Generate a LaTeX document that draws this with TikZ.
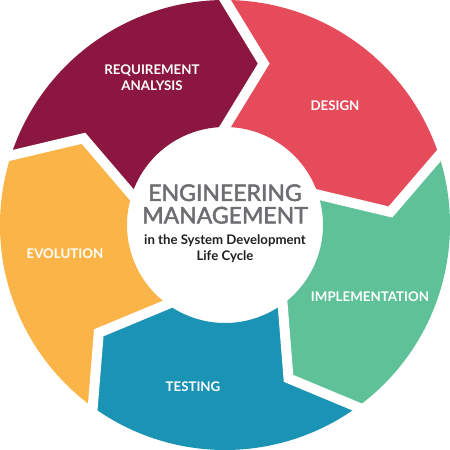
\documentclass[tikz,border=0pt]{standalone}
\usepackage{fontspec}
\setmainfont{Lato}
\newfontfamily\titlefont{Lato}[FakeBold=2.2]
\usetikzlibrary{calc}
\definecolor{cMaroon}{HTML}{8B1740}
\definecolor{cRed}{HTML}{E54B5A}
\definecolor{cGreen}{HTML}{5FC198}
\definecolor{cTeal}{HTML}{1B93B4}
\definecolor{cOrange}{HTML}{FBB447}
\definecolor{cGray}{HTML}{6D6E71}
\definecolor{cDark}{HTML}{231F20}
\tikzset{
  phaselabel/.style={text=white, align=center, font=\bfseries\fontsize{13.3}{16}\selectfont},
  gapline/.style={white, line width=10pt, line join=miter},
}
\begin{document}
\begin{tikzpicture}[x=1pt,y=1pt]
\def\Ro{225}\def\Ri{98}\def\Rm{166}\def\off{13.5}
\useasboundingbox (-225,-225) rectangle (225,225);
\foreach \a/\col in {90/cMaroon, 18/cRed, -54/cGreen, -126/cTeal, -198/cOrange}{
  \fill[\col] (\a+72:\Ro) arc[start angle=\a+72, end angle=\a, radius=\Ro]
    -- (\a-\off:\Rm) -- (\a:\Ri) arc[start angle=\a, end angle=\a+72, radius=\Ri]
    -- (\a+72-\off:\Rm) -- cycle;
}
\foreach \a in {90,18,-54,-126,-198}{
  \coordinate (t\a) at (\a-\off:\Rm);
  \coordinate (o\a) at (\a:\Ro);
  \coordinate (i\a) at (\a:\Ri);
  \draw[gapline] ($(t\a)!1.3!(o\a)$) -- (t\a) -- ($(t\a)!1.1!(i\a)$);
}
\node[phaselabel] (req) at (-73,147) {REQUIREMENT\\ANALYSIS};
\node[phaselabel] (des) at (110,119) {DESIGN};
\node[phaselabel] (imp) at (145,-72) {IMPLEMENTATION};
\node[phaselabel] (tst) at (-32,-162) {TESTING};
\node[phaselabel] (evo) at (-160,-29) {EVOLUTION};
\node[text=cGray, align=center, font=\titlefont\fontsize{23}{22.5}\selectfont] (title) at (0,21) {ENGINEERING\\MANAGEMENT};
\node[text=cDark, align=center, font=\bfseries\fontsize{13.2}{16}\selectfont] (sub) at (0,-24) {in the System Development\\Life Cycle};
\end{tikzpicture}
\end{document}
